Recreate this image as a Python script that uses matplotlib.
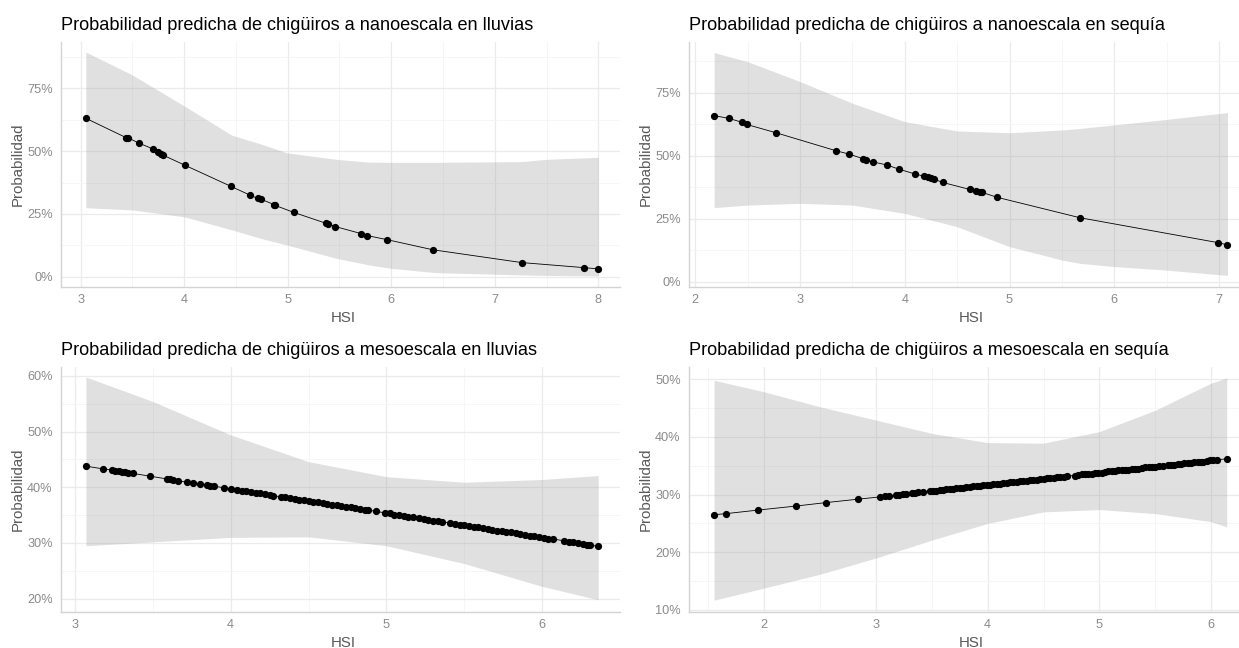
import numpy as np
import matplotlib
matplotlib.use('Agg')
import matplotlib.pyplot as plt
from matplotlib.ticker import FuncFormatter, FixedLocator

plt.rcParams['font.family'] = ['Liberation Sans', 'DejaVu Sans']

# ---- data: nanoescala en lluvias ----
hsi_nl = [3.05, 3.44, 3.46, 3.56, 3.70, 3.75, 3.78, 3.80, 4.01, 4.45, 4.64, 4.71, 4.74,
          4.87, 4.88, 5.06, 5.37, 5.39, 5.46, 5.71, 5.77, 5.96, 6.40, 7.26, 7.86, 8.00]
prob_nl = [63.0, 55.3, 55.2, 53.2, 50.8, 49.6, 48.8, 48.3, 44.3, 36.0, 32.4, 31.2, 30.9,
           28.7, 28.4, 25.6, 21.3, 21.1, 20.0, 17.2, 16.4, 14.8, 10.8, 5.7, 3.7, 3.2]
rib_x_nl = [3.05, 3.50, 4.00, 4.46, 4.74, 4.99, 5.47, 5.78, 6.00, 6.43, 7.26, 7.50, 8.00]
rib_lo_nl = [27.5, 26.6, 23.9, 18.7, 15.3, 12.7, 7.4, 4.8, 3.4, 1.7, 0.8, 0.6, 0.4]
rib_hi_nl = [89.3, 80.2, 67.9, 56.3, 52.8, 49.3, 46.7, 45.6, 45.5, 45.5, 45.8, 46.7, 47.5]

# ---- data: nanoescala en sequia ----
hsi_ns = [2.18, 2.32, 2.45, 2.49, 2.77, 3.34, 3.47, 3.60, 3.63, 3.70, 3.83, 3.94, 4.10,
          4.18, 4.22, 4.25, 4.28, 4.36, 4.62, 4.68, 4.72, 4.74, 4.88, 5.67, 6.99, 7.08]
prob_ns = [65.9, 64.8, 63.2, 62.4, 59.1, 52.0, 50.6, 48.8, 48.3, 47.5, 46.3, 44.7, 42.7,
           41.9, 41.4, 41.0, 40.7, 39.4, 36.6, 35.8, 35.6, 35.4, 33.5, 25.4, 15.5, 14.6]
rib_x_ns = [2.18, 2.50, 3.00, 3.50, 4.00, 4.50, 5.00, 5.50, 5.67, 6.00, 6.50, 7.08]
rib_lo_ns = [29.4, 30.4, 31.1, 30.4, 27.1, 21.8, 13.9, 8.6, 7.3, 6.0, 4.6, 2.5]
rib_hi_ns = [90.9, 87.3, 79.4, 70.8, 63.5, 59.8, 59.1, 60.2, 60.8, 62.2, 64.4, 67.1]

# ---- data: mesoescala en lluvias ----
hsi_ml = [3.07, 3.18, 3.24, 3.26, 3.28, 3.30, 3.32, 3.34, 3.37, 3.48, 3.59, 3.61, 3.63,
          3.66, 3.72, 3.76, 3.80, 3.85, 3.87, 3.89, 3.96, 4.00, 4.04, 4.07, 4.10, 4.13,
          4.16, 4.19, 4.22, 4.25, 4.27, 4.32, 4.35, 4.38, 4.41, 4.44, 4.47, 4.50, 4.53,
          4.56, 4.59, 4.62, 4.65, 4.68, 4.71, 4.74, 4.77, 4.80, 4.83, 4.86, 4.88, 4.93,
          4.99, 5.02, 5.05, 5.08, 5.11, 5.14, 5.17, 5.21, 5.24, 5.27, 5.30, 5.33, 5.36,
          5.41, 5.44, 5.47, 5.50, 5.53, 5.56, 5.59, 5.62, 5.65, 5.68, 5.71, 5.74, 5.77,
          5.80, 5.83, 5.86, 5.89, 5.92, 5.95, 5.98, 6.01, 6.04, 6.07, 6.14, 6.17, 6.20,
          6.23, 6.26, 6.29, 6.31, 6.36]
prob_ml = [43.8, 43.3, 43.1, 43.0, 42.9, 42.8, 42.7, 42.6, 42.5, 42.0, 41.5, 41.4, 41.3,
           41.2, 40.9, 40.8, 40.6, 40.4, 40.3, 40.2, 39.9, 39.7, 39.6, 39.4, 39.3, 39.2,
           39.0, 38.9, 38.8, 38.6, 38.5, 38.3, 38.2, 38.1, 37.9, 37.8, 37.7, 37.5, 37.4,
           37.3, 37.1, 37.0, 36.9, 36.8, 36.6, 36.5, 36.4, 36.2, 36.1, 36.0, 35.9, 35.7,
           35.4, 35.3, 35.1, 35.0, 34.9, 34.7, 34.6, 34.4, 34.3, 34.2, 34.0, 33.9, 33.8,
           33.6, 33.4, 33.3, 33.2, 33.0, 32.9, 32.8, 32.6, 32.5, 32.4, 32.2, 32.1, 32.0,
           31.9, 31.7, 31.6, 31.5, 31.3, 31.2, 31.1, 30.9, 30.8, 30.7, 30.4, 30.2, 30.1,
           30.0, 29.8, 29.7, 29.6, 29.4]
rib_x_ml = [3.07, 3.50, 4.00, 4.50, 5.00, 5.50, 6.00, 6.36]
rib_lo_ml = [29.5, 30.2, 31.0, 31.1, 29.5, 26.3, 22.2, 19.8]
rib_hi_ml = [59.8, 55.4, 49.4, 44.6, 41.9, 40.9, 41.4, 42.1]

# ---- data: mesoescala en sequia ----
hsi_ms = [1.55, 1.66, 1.94, 2.28, 2.55, 2.84, 3.04, 3.08, 3.12, 3.18, 3.21, 3.24, 3.27,
          3.32, 3.35, 3.38, 3.42, 3.48, 3.51, 3.54, 3.57, 3.60, 3.63, 3.66, 3.69, 3.72,
          3.75, 3.78, 3.81, 3.84, 3.87, 3.90, 3.93, 3.96, 3.99, 4.02, 4.05, 4.08, 4.11,
          4.14, 4.17, 4.20, 4.23, 4.26, 4.29, 4.32, 4.35, 4.38, 4.41, 4.44, 4.47, 4.50,
          4.53, 4.56, 4.59, 4.62, 4.65, 4.68, 4.71, 4.78, 4.81, 4.84, 4.87, 4.90, 4.93,
          4.96, 4.99, 5.02, 5.05, 5.08, 5.11, 5.14, 5.17, 5.20, 5.23, 5.26, 5.29, 5.32,
          5.35, 5.38, 5.41, 5.44, 5.47, 5.50, 5.53, 5.57, 5.61, 5.64, 5.67, 5.70, 5.73,
          5.76, 5.79, 5.82, 5.85, 5.88, 5.91, 5.93, 5.96, 5.99, 6.02, 6.05, 6.14]
prob_ms = [26.5, 26.7, 27.3, 28.0, 28.6, 29.2, 29.6, 29.7, 29.8, 29.9, 30.0, 30.1, 30.1,
           30.2, 30.3, 30.4, 30.5, 30.6, 30.6, 30.7, 30.8, 30.8, 30.9, 31.0, 31.0, 31.1,
           31.2, 31.2, 31.3, 31.3, 31.4, 31.5, 31.5, 31.6, 31.7, 31.7, 31.8, 31.8, 31.9,
           32.0, 32.0, 32.1, 32.2, 32.2, 32.3, 32.4, 32.4, 32.5, 32.5, 32.6, 32.7, 32.7,
           32.8, 32.9, 32.9, 33.0, 33.1, 33.1, 33.2, 33.3, 33.4, 33.5, 33.5, 33.6, 33.6,
           33.7, 33.8, 33.8, 33.9, 34.0, 34.0, 34.1, 34.2, 34.2, 34.3, 34.3, 34.4, 34.5,
           34.5, 34.6, 34.7, 34.7, 34.8, 34.8, 34.9, 35.0, 35.1, 35.1, 35.2, 35.3, 35.3,
           35.4, 35.5, 35.5, 35.6, 35.6, 35.7, 35.7, 35.8, 35.9, 35.9, 36.0, 36.2]
rib_x_ms = [1.55, 2.00, 2.50, 3.00, 3.50, 4.00, 4.50, 5.00, 5.50, 6.00, 6.14]
rib_lo_ms = [11.7, 13.8, 16.2, 19.0, 22.1, 25.0, 27.0, 27.4, 26.7, 25.3, 24.4]
rib_hi_ms = [49.8, 47.8, 45.2, 42.9, 40.6, 39.0, 38.9, 40.9, 44.6, 49.3, 50.2]

titles = ['Probabilidad predicha de chigüiros a nanoescala en lluvias',
          'Probabilidad predicha de chigüiros a nanoescala en sequía',
          'Probabilidad predicha de chigüiros a mesoescala en lluvias',
          'Probabilidad predicha de chigüiros a mesoescala en sequía']

W, H = 1239, 648
fig = plt.figure(figsize=(W / 100, H / 100), dpi=100)


def panel(box, xlim, ylim, xticks, yticks, hsi, prob, rx, rlo, rhi, title, xlab_cx):
    l, t, r, b = box
    ax = fig.add_axes([l / W, 1 - b / H, (r - l) / W, (b - t) / H])
    ax.set_xlim(*xlim)
    ax.set_ylim(*ylim)

    # grid, ggplot minimal look
    ax.xaxis.set_major_locator(FixedLocator(xticks))
    ax.yaxis.set_major_locator(FixedLocator(yticks))
    ax.xaxis.set_minor_locator(FixedLocator([v + 0.5 for v in [xticks[0] - 1] + xticks]))
    ystep = yticks[1] - yticks[0]
    ax.yaxis.set_minor_locator(FixedLocator([v + ystep / 2 for v in [yticks[0] - ystep] + yticks]))
    ax.grid(which='major', color='#EBEBEB', lw=0.9)
    ax.grid(which='minor', color='#F5F5F5', lw=0.6)
    ax.set_axisbelow(True)
    ax.yaxis.set_major_formatter(FuncFormatter(lambda v, p: f'{v:.0f}%'))
    ax.tick_params(which='both', length=0, labelsize=9.2, labelcolor='#8a8a8a')
    ax.tick_params(axis='x', pad=5)
    ax.tick_params(axis='y', pad=6)

    for s in ['top', 'right']:
        ax.spines[s].set_visible(False)
    for s in ['left', 'bottom']:
        ax.spines[s].set_color('#D3D3D3')
        ax.spines[s].set_linewidth(1.0)

    ax.fill_between(rx, rlo, rhi, color='#999999', alpha=0.3, lw=0)
    ax.plot(hsi, prob, color='black', lw=0.6, marker='o', ms=4.2, mec='black', mfc='black')

    fig.text(l / W, 1 - (t - 12) / H, title, fontsize=13.1, color='black', va='baseline', ha='left')
    fig.text((l - 43) / W, 1 - ((t + b) / 2) / H, 'Probabilidad', rotation=90,
             fontsize=10.8, color='#595959', ha='center', va='center')
    fig.text(xlab_cx / W, 1 - (b + 31) / H, 'HSI', fontsize=10.8, color='#595959',
             ha='center', va='center')
    return ax


panel((61, 42, 620, 287), (2.81, 8.21), (-4.0, 93.3), [3, 4, 5, 6, 7, 8], [0, 25, 50, 75],
      hsi_nl, prob_nl, rib_x_nl, rib_lo_nl, rib_hi_nl, titles[0], 343)
panel((689, 42, 1239, 287), (1.94, 7.19), (-2.1, 95.1), [2, 3, 4, 5, 6, 7], [0, 25, 50, 75],
      hsi_ns, prob_ns, rib_x_ns, rib_lo_ns, rib_hi_ns, titles[1], 971)
panel((61, 367, 620, 612), (2.91, 6.50), (17.6, 61.6), [3, 4, 5, 6], [20, 30, 40, 50, 60],
      hsi_ml, prob_ml, rib_x_ml, rib_lo_ml, rib_hi_ml, titles[2], 343)
panel((689, 367, 1239, 612), (1.326, 6.25), (9.65, 52.1), [2, 3, 4, 5, 6], [10, 20, 30, 40, 50],
      hsi_ms, prob_ms, rib_x_ms, rib_lo_ms, rib_hi_ms, titles[3], 971)

fig.savefig('out.png', dpi=100, facecolor='white')
